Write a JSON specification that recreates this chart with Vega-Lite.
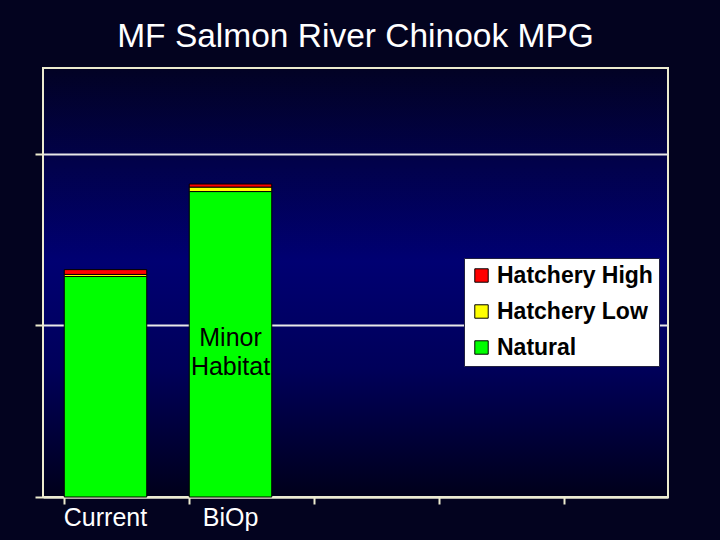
{
  "$schema": "https://vega.github.io/schema/vega-lite/v6.json",
  "width": 625,
  "height": 429,
  "autosize": {"type": "none"},
  "padding": {"left": 43, "top": 68, "right": 52, "bottom": 43},
  "background": "#03031f",
  "title": {
    "text": "MF Salmon River Chinook MPG",
    "color": "#ffffff",
    "font": "Liberation Sans",
    "fontSize": 33.5,
    "fontWeight": "normal",
    "anchor": "middle",
    "offset": 14
  },
  "config": {
    "view": {
      "stroke": "#ecebcf",
      "strokeWidth": 2,
      "fill": {
        "gradient": "linear",
        "x1": 0, "y1": 0, "x2": 0, "y2": 1,
        "stops": [
          {"offset": 0, "color": "#020224"},
          {"offset": 0.45, "color": "#000072"},
          {"offset": 0.7, "color": "#00005a"},
          {"offset": 1, "color": "#00001a"}
        ]
      }
    }
  },
  "datasets": {
    "bars": [
      {"scenario": "Current", "group": "Natural", "value": 1285},
      {"scenario": "Current", "group": "Hatchery Low", "value": 12},
      {"scenario": "Current", "group": "Hatchery High", "value": 28},
      {"scenario": "BiOp", "group": "Natural", "value": 1780},
      {"scenario": "BiOp", "group": "Hatchery Low", "value": 26},
      {"scenario": "BiOp", "group": "Hatchery High", "value": 18}
    ],
    "notes": [
      {"scenario": "BiOp", "value": 925, "label": "Minor\nHabitat"}
    ]
  },
  "layer": [
    {
      "data": {"name": "bars"},
      "mark": {"type": "bar", "stroke": "#000000", "strokeWidth": 1},
      "encoding": {
        "x": {
          "field": "scenario",
          "type": "nominal",
          "scale": {"domain": ["Current", "BiOp", "c3", "c4", "c5"], "paddingInner": 0.34, "paddingOuter": 0.17},
          "axis": {
            "title": null,
            "labelExpr": "indexof(['Current','BiOp'], datum.value) >= 0 ? datum.value : ''",
            "labelColor": "#ffffff",
            "labelFont": "Liberation Sans",
            "labelFontSize": 25,
            "labelAngle": 0,
            "labelPadding": 1,
            "bandPosition": 0,
            "tickColor": "#ecebcf",
            "tickSize": 7,
            "tickWidth": 2,
            "domainColor": "#ecebcf",
            "domainWidth": 2
          }
        },
        "y": {
          "field": "value",
          "type": "quantitative",
          "stack": "zero",
          "scale": {"domain": [0, 2500], "nice": false},
          "axis": {
            "title": null,
            "labels": false,
            "values": [0, 1000, 2000],
            "tickColor": "#ecebcf",
            "tickSize": 8,
            "tickWidth": 2,
            "grid": true,
            "gridColor": "#e8e8e8",
            "gridWidth": 2,
            "gridOpacity": 1,
            "domain": false
          }
        },
        "color": {
          "field": "group",
          "type": "nominal",
          "scale": {
            "domain": ["Hatchery High", "Hatchery Low", "Natural"],
            "range": ["#ff0000", "#ffff00", "#00ff00"]
          },
          "legend": {
            "title": null,
            "orient": "none",
            "legendX": 421,
            "legendY": 190,
            "fillColor": "#ffffff",
            "strokeColor": "#202040",
            "padding": 6,
            "symbolType": "square",
            "symbolSize": 180,
            "symbolStrokeColor": "#000000",
            "symbolStrokeWidth": 1,
            "symbolOpacity": 1,
            "labelFont": "Liberation Sans",
            "labelFontSize": 23,
            "labelFontWeight": "bold",
            "labelColor": "#000000",
            "labelLimit": 300,
            "rowPadding": 12,
            "labelOffset": 4
          }
        },
        "order": {"field": "group", "sort": "descending"}
      }
    },
    {
      "data": {"name": "notes"},
      "mark": {
        "type": "text",
        "lineBreak": "\n",
        "lineHeight": 29,
        "font": "Liberation Sans",
        "fontSize": 25,
        "color": "#000000",
        "align": "center",
        "baseline": "middle"
      },
      "encoding": {
        "x": {"field": "scenario", "type": "nominal"},
        "y": {"field": "value", "type": "quantitative"},
        "text": {"field": "label"}
      }
    }
  ]
}
